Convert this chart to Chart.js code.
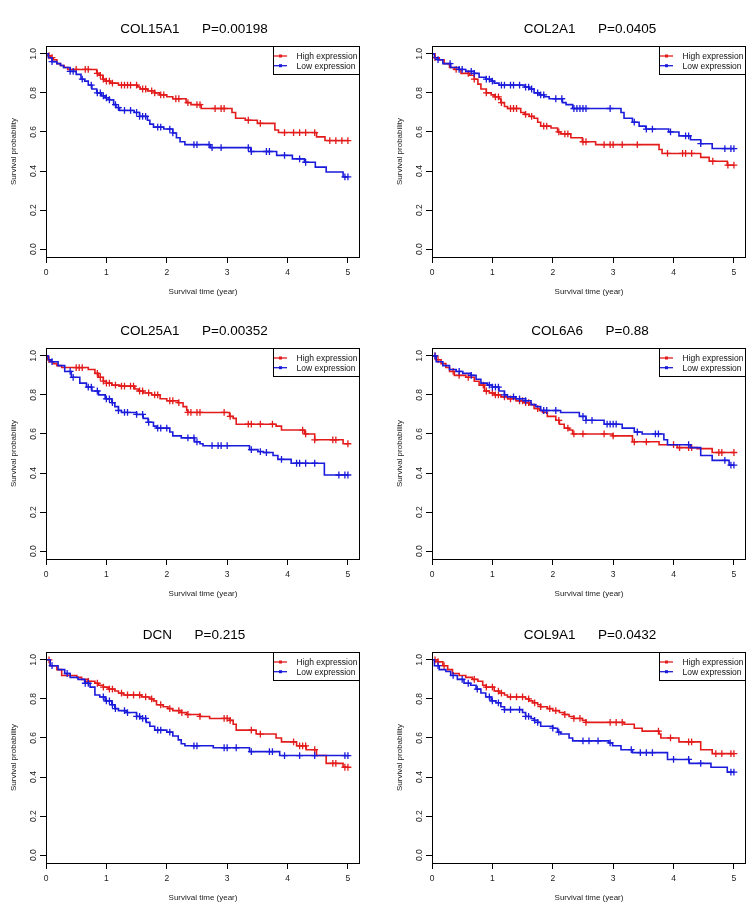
<!DOCTYPE html>
<html>
<head>
<meta charset="utf-8">
<title>Survival curves</title>
<script src="https://cdn.jsdelivr.net/npm/chart.js@4.4.1/dist/chart.umd.min.js"></script>
<style>
    html, body { margin: 0; padding: 0; background: #fff; }
    #wrap { position: relative; width: 753px; height: 908px; overflow: hidden; }
    #wrap canvas { position: absolute; }
</style>
</head>
<body>
<div id="wrap">
    <canvas id="km0" width="370" height="300" style="left:0px;top:0px"></canvas>
    <canvas id="km1" width="370" height="300" style="left:386px;top:0px"></canvas>
    <canvas id="km2" width="370" height="300" style="left:0px;top:302px"></canvas>
    <canvas id="km3" width="370" height="300" style="left:386px;top:302px"></canvas>
    <canvas id="km4" width="370" height="300" style="left:0px;top:606px"></canvas>
    <canvas id="km5" width="370" height="300" style="left:386px;top:606px"></canvas>
</div>
<script>
const X_TICKS = [0, 1, 2, 3, 4, 5];
const Y_TICKS = [0, 0.2, 0.4, 0.6, 0.8, 1.0];
const GROUP_LABELS = ['High expression', 'Low expression'];
const GENES = ['COL15A1', 'COL2A1', 'COL25A1', 'COL6A6', 'DCN', 'COL9A1'];
const P_VALUES = ['0.00198', '0.0405', '0.00352', '0.88', '0.215', '0.0432'];

// [time (year), survival probability] after each event
const COL15A1_HIGH = [[0,1],[0.04,0.99],[0.08,0.98],[0.12,0.97],[0.18,0.95],[0.24,0.94],[0.3,0.93],[0.36,0.92],[0.84,0.90],[0.88,0.89],[0.94,0.87],[0.98,0.86],[1.06,0.85],[1.2,0.84],[1.52,0.83],[1.56,0.82],[1.68,0.81],[1.8,0.80],[1.88,0.79],[2.0,0.78],[2.1,0.77],[2.32,0.75],[2.4,0.74],[2.57,0.72],[3.08,0.70],[3.14,0.67],[3.3,0.66],[3.5,0.644],[3.79,0.61],[3.85,0.597],[4.48,0.575],[4.62,0.556],[5.0,0.556]];
const COL15A1_HIGH_CENS = [0.05,0.1,0.5,0.65,0.7,0.85,0.9,0.95,1.0,1.05,1.1,1.25,1.3,1.35,1.4,1.5,1.6,1.65,1.75,1.8,1.9,1.95,2.15,2.2,2.35,2.5,2.55,2.8,2.9,2.95,3.35,3.55,3.95,4.1,4.2,4.3,4.45,4.7,4.8,4.9,5.0];
const COL15A1_LOW = [[0,1],[0.04,0.98],[0.1,0.96],[0.18,0.95],[0.24,0.94],[0.29,0.93],[0.4,0.91],[0.5,0.895],[0.58,0.87],[0.64,0.86],[0.7,0.84],[0.76,0.82],[0.84,0.80],[0.92,0.785],[0.98,0.775],[1.05,0.765],[1.12,0.74],[1.16,0.725],[1.22,0.71],[1.46,0.70],[1.55,0.68],[1.68,0.66],[1.72,0.64],[1.78,0.625],[1.95,0.615],[2.1,0.595],[2.16,0.57],[2.22,0.55],[2.3,0.535],[2.72,0.52],[3.39,0.50],[3.82,0.48],[4.08,0.462],[4.28,0.445],[4.46,0.42],[4.64,0.395],[4.92,0.37],[5.0,0.37]];
const COL15A1_LOW_CENS = [0.1,0.4,0.45,0.6,0.75,0.85,0.9,0.95,1.0,1.05,1.15,1.2,1.3,1.4,1.5,1.55,1.6,1.65,1.85,1.9,2.05,2.1,2.45,2.5,2.7,2.75,2.9,3.35,3.4,3.65,3.7,3.95,4.2,4.3,4.95,5.0];

const COL2A1_HIGH = [[0,1],[0.05,0.98],[0.12,0.97],[0.2,0.95],[0.29,0.93],[0.37,0.92],[0.48,0.90],[0.62,0.89],[0.7,0.87],[0.76,0.845],[0.81,0.82],[0.9,0.80],[0.98,0.79],[1.03,0.78],[1.11,0.77],[1.14,0.75],[1.2,0.73],[1.25,0.72],[1.47,0.70],[1.53,0.69],[1.61,0.68],[1.69,0.67],[1.75,0.65],[1.8,0.63],[1.97,0.62],[2.08,0.60],[2.13,0.59],[2.3,0.57],[2.49,0.55],[2.71,0.535],[3.76,0.51],[3.81,0.49],[4.45,0.47],[4.59,0.45],[4.89,0.43],[5.0,0.43]];
const COL2A1_HIGH_CENS = [0.05,0.4,0.6,0.7,0.9,1.05,1.1,1.15,1.3,1.35,1.4,1.55,1.65,1.85,1.9,2.1,2.2,2.25,2.5,2.55,2.85,2.95,3.0,3.15,3.4,3.9,4.15,4.2,4.3,4.65,4.9,5.0];
const COL2A1_LOW = [[0,1],[0.04,0.98],[0.09,0.97],[0.18,0.95],[0.31,0.93],[0.45,0.92],[0.56,0.91],[0.7,0.90],[0.78,0.88],[0.89,0.87],[0.98,0.86],[1.03,0.85],[1.11,0.84],[1.53,0.83],[1.61,0.82],[1.69,0.80],[1.78,0.79],[1.86,0.78],[1.94,0.77],[2.16,0.75],[2.22,0.74],[2.33,0.72],[3.13,0.70],[3.18,0.67],[3.32,0.65],[3.43,0.63],[3.54,0.615],[3.92,0.60],[4.09,0.58],[4.28,0.56],[4.45,0.54],[4.64,0.515],[5.0,0.515]];
const COL2A1_LOW_CENS = [0.1,0.3,0.45,0.5,0.65,0.7,0.9,0.95,1.0,1.15,1.2,1.3,1.35,1.45,1.55,1.6,1.65,1.75,1.8,1.85,2.05,2.15,2.35,2.4,2.45,2.5,2.55,2.95,3.35,3.55,3.65,3.95,4.2,4.25,4.45,4.85,4.95,5.0];

const COL25A1_HIGH = [[0,1],[0.03,0.98],[0.07,0.97],[0.12,0.96],[0.18,0.95],[0.26,0.94],[0.7,0.93],[0.81,0.91],[0.87,0.89],[0.95,0.87],[1.0,0.86],[1.09,0.85],[1.22,0.845],[1.47,0.83],[1.53,0.82],[1.61,0.81],[1.75,0.80],[1.89,0.78],[2.0,0.77],[2.19,0.76],[2.27,0.74],[2.33,0.72],[2.35,0.71],[3.04,0.69],[3.1,0.68],[3.15,0.65],[3.81,0.64],[3.9,0.62],[4.28,0.60],[4.45,0.57],[4.92,0.55],[5.0,0.55]];
const COL25A1_HIGH_CENS = [0.05,0.5,0.55,0.6,0.85,0.9,0.95,1.0,1.05,1.15,1.25,1.3,1.4,1.45,1.55,1.6,1.7,1.8,1.85,2.05,2.1,2.2,2.35,2.4,2.5,2.55,2.95,3.05,3.35,3.4,3.55,3.75,4.25,4.3,4.45,4.75,4.8,5.0];
const COL25A1_LOW = [[0,1],[0.04,0.98],[0.09,0.97],[0.2,0.95],[0.31,0.92],[0.42,0.89],[0.56,0.86],[0.67,0.84],[0.76,0.82],[0.87,0.80],[0.98,0.78],[1.09,0.76],[1.14,0.74],[1.2,0.72],[1.25,0.71],[1.5,0.70],[1.61,0.68],[1.69,0.66],[1.78,0.64],[1.83,0.63],[2.05,0.61],[2.1,0.59],[2.24,0.58],[2.46,0.56],[2.55,0.55],[2.6,0.54],[3.37,0.52],[3.51,0.51],[3.6,0.505],[3.76,0.49],[3.84,0.47],[4.06,0.45],[4.61,0.39],[5.0,0.39]];
const COL25A1_LOW_CENS = [0.1,0.4,0.45,0.7,0.75,0.85,1.0,1.05,1.1,1.2,1.3,1.35,1.5,1.6,1.7,1.85,1.9,2.0,2.35,2.45,2.5,2.75,2.85,2.9,3.0,3.4,3.55,3.65,3.9,4.15,4.2,4.3,4.45,4.85,4.95,5.0];

const COL6A6_HIGH = [[0,1],[0.07,0.98],[0.15,0.96],[0.23,0.94],[0.29,0.92],[0.37,0.90],[0.56,0.89],[0.7,0.87],[0.78,0.85],[0.87,0.82],[0.95,0.81],[1.03,0.80],[1.14,0.79],[1.25,0.78],[1.39,0.77],[1.53,0.76],[1.61,0.75],[1.69,0.73],[1.78,0.72],[1.83,0.71],[1.91,0.69],[2.05,0.67],[2.11,0.65],[2.19,0.63],[2.27,0.62],[2.33,0.60],[2.99,0.59],[3.32,0.56],[3.76,0.545],[4.06,0.53],[4.39,0.525],[4.64,0.505],[5.0,0.505]];
const COL6A6_HIGH_CENS = [0.05,0.1,0.35,0.45,0.6,0.85,0.9,1.0,1.05,1.1,1.2,1.3,1.45,1.5,1.55,1.6,1.75,2.1,2.25,2.35,2.5,2.85,3.0,3.35,3.55,4.0,4.1,4.25,4.3,4.75,4.8,5.0];
const COL6A6_LOW = [[0,1],[0.07,0.97],[0.18,0.95],[0.29,0.93],[0.4,0.92],[0.51,0.91],[0.64,0.90],[0.73,0.88],[0.81,0.86],[0.92,0.85],[1.0,0.84],[1.11,0.82],[1.2,0.80],[1.25,0.79],[1.39,0.78],[1.55,0.77],[1.64,0.75],[1.72,0.74],[1.8,0.72],[2.13,0.71],[2.44,0.69],[2.55,0.67],[2.85,0.65],[3.15,0.63],[3.35,0.61],[3.48,0.60],[3.84,0.57],[3.9,0.545],[4.28,0.53],[4.45,0.49],[4.64,0.465],[4.92,0.44],[5.0,0.44]];
const COL6A6_LOW_CENS = [0.05,0.45,0.65,0.95,1.0,1.05,1.1,1.2,1.35,1.45,1.55,1.85,1.9,2.05,2.5,2.55,2.65,2.9,2.95,3.0,3.05,3.4,3.7,3.75,4.25,4.85,4.95,5.0];

const DCN_HIGH = [[0,1],[0.07,0.97],[0.18,0.95],[0.26,0.92],[0.51,0.91],[0.59,0.90],[0.7,0.89],[0.81,0.88],[0.87,0.87],[0.95,0.86],[1.03,0.85],[1.14,0.84],[1.2,0.83],[1.28,0.82],[1.58,0.81],[1.72,0.80],[1.78,0.79],[1.83,0.77],[1.94,0.76],[2.02,0.75],[2.1,0.74],[2.24,0.73],[2.33,0.72],[2.55,0.71],[2.71,0.70],[3.04,0.69],[3.1,0.67],[3.15,0.64],[3.48,0.62],[3.81,0.60],[3.9,0.58],[4.15,0.56],[4.31,0.54],[4.48,0.51],[4.64,0.47],[4.92,0.45],[5.0,0.45]];
const DCN_HIGH_CENS = [0.05,0.7,0.85,0.95,1.05,1.1,1.25,1.35,1.45,1.55,1.65,1.75,1.9,2.05,2.2,2.25,2.35,2.55,2.95,3.0,3.05,3.4,3.55,4.1,4.2,4.25,4.3,4.45,4.75,4.8,4.95,5.0];
const DCN_LOW = [[0,1],[0.07,0.97],[0.2,0.95],[0.31,0.93],[0.4,0.91],[0.53,0.90],[0.64,0.88],[0.73,0.86],[0.81,0.82],[0.89,0.81],[0.98,0.79],[1.09,0.77],[1.14,0.75],[1.2,0.74],[1.33,0.73],[1.5,0.71],[1.56,0.70],[1.66,0.68],[1.72,0.66],[1.8,0.64],[2.0,0.63],[2.1,0.61],[2.19,0.59],[2.24,0.57],[2.3,0.56],[2.77,0.55],[3.37,0.53],[3.87,0.51],[5.0,0.51]];
const DCN_LOW_CENS = [0.1,0.35,0.65,0.7,0.95,1.0,1.05,1.1,1.15,1.3,1.35,1.5,1.55,1.6,1.65,1.85,1.9,2.05,2.45,2.5,2.95,3.0,3.15,3.4,3.7,3.75,3.95,4.2,4.45,4.95,5.0];

const COL9A1_HIGH = [[0,1],[0.09,0.99],[0.18,0.97],[0.26,0.95],[0.34,0.93],[0.45,0.92],[0.56,0.91],[0.67,0.90],[0.76,0.89],[0.84,0.87],[0.89,0.86],[1.03,0.84],[1.11,0.83],[1.2,0.82],[1.25,0.81],[1.55,0.80],[1.61,0.79],[1.67,0.78],[1.75,0.77],[1.8,0.76],[1.91,0.75],[2.0,0.74],[2.11,0.73],[2.19,0.72],[2.27,0.71],[2.35,0.70],[2.49,0.69],[2.55,0.68],[3.18,0.67],[3.35,0.65],[3.48,0.635],[3.76,0.62],[3.79,0.60],[4.09,0.58],[4.45,0.54],[4.64,0.52],[5.0,0.52]];
const COL9A1_HIGH_CENS = [0.05,0.1,0.2,0.7,0.9,1.0,1.1,1.15,1.3,1.4,1.5,1.6,1.7,1.8,1.95,2.05,2.2,2.35,2.45,2.55,2.95,3.05,3.15,3.75,3.95,4.25,4.3,4.7,4.8,4.95,5.0];
const COL9A1_LOW = [[0,1],[0.04,0.97],[0.12,0.95],[0.23,0.94],[0.31,0.92],[0.42,0.90],[0.53,0.88],[0.64,0.87],[0.73,0.85],[0.81,0.83],[0.89,0.81],[0.98,0.79],[1.06,0.78],[1.14,0.76],[1.2,0.745],[1.5,0.73],[1.55,0.71],[1.64,0.70],[1.69,0.69],[1.75,0.68],[1.8,0.66],[2.0,0.65],[2.08,0.63],[2.13,0.62],[2.27,0.60],[2.33,0.585],[2.93,0.575],[2.99,0.56],[3.13,0.54],[3.32,0.525],[3.9,0.49],[4.26,0.47],[4.62,0.45],[4.89,0.425],[5.0,0.425]];
const COL9A1_LOW_CENS = [0.1,0.35,0.5,0.6,0.75,0.95,1.0,1.1,1.2,1.3,1.45,1.55,1.6,1.7,1.75,2.0,2.1,2.5,2.6,2.75,2.95,3.3,3.45,3.55,3.65,4.0,4.25,4.45,4.95,5.0];

const panels = [
    { high: COL15A1_HIGH, highCens: COL15A1_HIGH_CENS, low: COL15A1_LOW, lowCens: COL15A1_LOW_CENS },
    { high: COL2A1_HIGH, highCens: COL2A1_HIGH_CENS, low: COL2A1_LOW, lowCens: COL2A1_LOW_CENS },
    { high: COL25A1_HIGH, highCens: COL25A1_HIGH_CENS, low: COL25A1_LOW, lowCens: COL25A1_LOW_CENS },
    { high: COL6A6_HIGH, highCens: COL6A6_HIGH_CENS, low: COL6A6_LOW, lowCens: COL6A6_LOW_CENS },
    { high: DCN_HIGH, highCens: DCN_HIGH_CENS, low: DCN_LOW, lowCens: DCN_LOW_CENS },
    { high: COL9A1_HIGH, highCens: COL9A1_HIGH_CENS, low: COL9A1_LOW, lowCens: COL9A1_LOW_CENS },
];

const RED = '#e31b1b';
const BLUE = '#1b1bdb';
const FONT = '"Liberation Sans", Arial, sans-serif';

Chart.defaults.font.family = FONT;

// survival level of a curve at time t (step function)
function survAt(curve, t) {
    var s = curve[0][1];
    for (var i = 0; i < curve.length; i++) {
        if (curve[i][0] <= t) s = curve[i][1];
    }
    return s;
}

function toPoints(curve) {
    return curve.map(p => ({ x: p[0], y: p[1] }));
}

function censPoints(curve, times) {
    return times.map(t => ({ x: t, y: survAt(curve, t) }));
}

// R style frame, main title and boxed legend
const rFrame = {
    id: 'rFrame',
    afterDraw(chart, args, opts) {
        const ctx = chart.ctx;
        const a = chart.chartArea;
        ctx.save();
        ctx.strokeStyle = '#000';
        ctx.lineWidth = 1;
        ctx.strokeRect(Math.round(a.left) + 0.5, Math.round(a.top) + 0.5,
            Math.round(a.right - a.left) - 1, Math.round(a.bottom - a.top));

        ctx.fillStyle = '#000';
        ctx.font = '13.5px ' + FONT;
        ctx.textAlign = 'center';
        ctx.textBaseline = 'middle';
        ctx.fillText(opts.text, (a.left + a.right) / 2 + opts.titleShift, 29);

        // legend
        const w = 87, h = 28;
        const lx = Math.round(a.right) - w, ly = Math.round(a.top);
        ctx.fillStyle = '#fff';
        ctx.fillRect(lx, ly, w, h);
        ctx.strokeRect(lx + 0.5, ly + 0.5, w - 1, h);
        ctx.font = '8.5px ' + FONT;
        ctx.textAlign = 'left';
        [RED, BLUE].forEach(function (col, i) {
            const y = ly + 10 + i * 9.7;
            ctx.strokeStyle = col;
            ctx.lineWidth = 1.3;
            ctx.beginPath();
            ctx.moveTo(lx + 1, y);
            ctx.lineTo(lx + 14, y);
            ctx.stroke();
            ctx.fillStyle = col;
            ctx.fillRect(lx + 6, y - 1.5, 3, 3);
            ctx.fillStyle = '#111';
            ctx.fillText(GROUP_LABELS[i], lx + 23.5, y + 0.5);
        });
        ctx.restore();
    }
};

function curveSet(curve, color) {
    return {
        data: toPoints(curve),
        stepped: 'before',
        borderColor: color,
        borderWidth: 1.6,
        pointRadius: 0,
        fill: false,
    };
}

function censorSet(curve, times, color) {
    return {
        data: censPoints(curve, times),
        showLine: false,
        pointStyle: 'cross',
        pointRadius: 3.4,
        pointBorderWidth: 1.3,
        borderColor: color,
        pointBorderColor: color,
    };
}

panels.forEach(function (p, i) {
    const ctx = document.getElementById('km' + i).getContext('2d');
    new Chart(ctx, {
        type: 'line',
        data: {
            datasets: [
                curveSet(p.low, BLUE),
                censorSet(p.low, p.lowCens, BLUE),
                curveSet(p.high, RED),
                censorSet(p.high, p.highCens, RED),
            ]
        },
        options: {
            responsive: false,
            animation: false,
            devicePixelRatio: 1,
            events: [],
            layout: { padding: { top: 46, right: 10, left: 0, bottom: 0 } },
            plugins: {
                legend: { display: false },
                tooltip: { enabled: false },
                title: { display: false },
                rFrame: { text: GENES[i] + '      P=' + P_VALUES[i], titleShift: i % 2 === 0 ? -9 : 1 },
            },
            scales: {
                x: {
                    type: 'linear',
                    min: 0,
                    max: 5.2,
                    afterBuildTicks: function (s) { s.ticks = X_TICKS.map(v => ({ value: v })); },
                    afterFit: function (s) { s.height = 43; },
                    grid: { drawOnChartArea: false, drawTicks: true, tickLength: 6, color: '#000' },
                    border: { display: false },
                    ticks: { font: { size: 8.5 }, color: '#222', padding: 5, maxRotation: 0, autoSkip: false },
                    title: { display: true, text: 'Survival time (year)', font: { size: 8 }, color: '#222', padding: { top: 0, bottom: 3 } },
                },
                y: {
                    type: 'linear',
                    min: -0.04,
                    max: 1.04,
                    afterBuildTicks: function (s) { s.ticks = Y_TICKS.map(v => ({ value: v })); },
                    afterFit: function (s) { s.width = 46; },
                    grid: { drawOnChartArea: false, drawTicks: true, tickLength: 6, color: '#000' },
                    border: { display: false },
                    ticks: {
                        font: { size: 8.5 }, color: '#222', padding: 0, minRotation: 90, maxRotation: 90,
                        crossAlign: 'center', autoSkip: false,
                        callback: function (v) { return v.toFixed(1); }
                    },
                    title: { display: true, text: 'Survival probability', font: { size: 8 }, color: '#222', padding: { top: 9, bottom: 0 } },
                }
            }
        },
        plugins: [rFrame]
    });
});
</script>
</body>
</html>
